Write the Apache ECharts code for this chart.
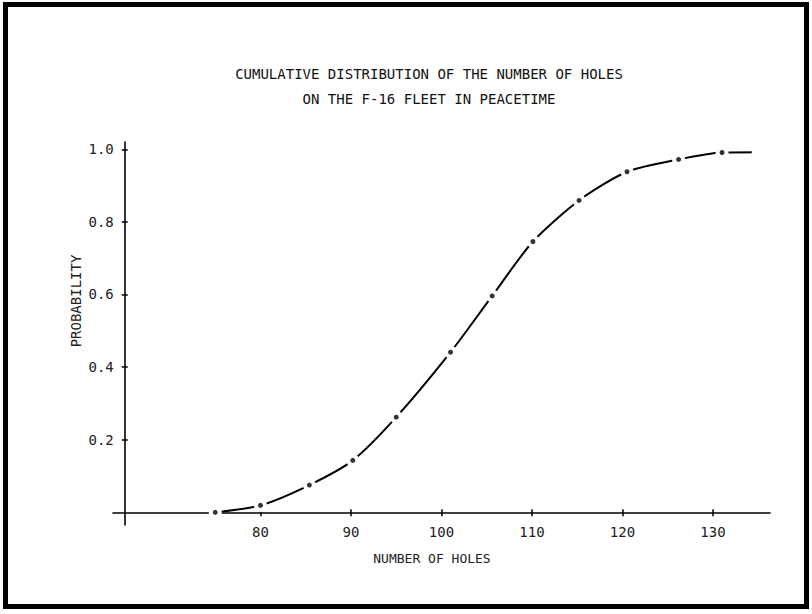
<!DOCTYPE html>
<html>
<head>
<meta charset="utf-8">
<script src="https://cdn.jsdelivr.net/npm/echarts@6/dist/echarts.min.js"></script>
<style>
html,body{margin:0;padding:0;background:#fff;}
#chart{width:812px;height:614px;}
</style>
</head>
<body>
<div id="chart"></div>
<script>
// ---- data ----
const titleLines = ['CUMULATIVE DISTRIBUTION OF THE NUMBER OF HOLES', 'ON THE F-16 FLEET IN PEACETIME'];
const xAxisTitle = 'NUMBER OF HOLES';
const yAxisTitle = 'PROBABILITY';
const holes = [75, 80, 85.4, 90.2, 95, 101, 105.6, 110.1, 115.2, 120.5, 126.2, 131, 135];
const probability = [0, 0.019, 0.075, 0.143, 0.262, 0.441, 0.596, 0.746, 0.859, 0.938, 0.972, 0.991, 0.992];
const xTicks = [80, 90, 100, 110, 120, 130];
const yTicks = [0.2, 0.4, 0.6, 0.8, 1.0];

// ---- chart ----
const FONT = 'DejaVu Sans Mono';
const X_MIN = 63.7, X_MAX = 136.3, Y_MIN = -0.035, Y_MAX = 1.02;
const GRID_L = 113, GRID_R = 42, GRID_T = 142, GRID_B = 89;
const pxPerX = (812 - GRID_L - GRID_R) / (X_MAX - X_MIN);
const yAxisAt = 65; // y axis crosses x axis here
const yOffset = -(yAxisAt - X_MIN) * pxPerX;

const points = holes.map((h, i) => [h, probability[i]]);
const dotPoints = points.slice(0, points.length - 1);

const chart = echarts.init(document.getElementById('chart'), null, {renderer: 'svg'});

const common = {
  type: 'value',
  splitLine: {show: false},
  axisLine: {show: true, lineStyle: {color: '#000', width: 1.6}}
};

chart.setOption({
  backgroundColor: '#fff',
  animation: false,
  title: {
    text: titleLines.join('\n'),
    left: 424, top: 56, textAlign: 'center',
    textStyle: {fontFamily: FONT, fontSize: 14, fontWeight: 'normal', color: '#111', lineHeight: 25}
  },
  grid: {left: GRID_L, right: GRID_R, top: GRID_T, bottom: GRID_B, containLabel: false, outerBoundsMode: 'none'},
  xAxis: [
    Object.assign({}, common, {
      min: X_MIN, max: X_MAX, position: 'bottom',
      axisLine: {show: true, onZero: true, lineStyle: {color: '#000', width: 1.6}},
      axisTick: {show: true, inside: false, length: 4, customValues: xTicks, lineStyle: {color: '#000', width: 1.5}},
      axisLabel: {show: true, customValues: xTicks, margin: 0, color: '#222', fontFamily: FONT, fontSize: 14}
    }),
    Object.assign({}, common, {
      min: X_MIN, max: X_MAX, position: 'bottom',
      axisLine: {show: false, onZero: true, onZeroAxisIndex: 0},
      axisTick: {show: true, inside: true, length: 3, customValues: xTicks, lineStyle: {color: '#000', width: 1.5}},
      axisLabel: {show: false}
    })
  ],
  yAxis: [
    Object.assign({}, common, {
      min: Y_MIN, max: Y_MAX, position: 'left', offset: yOffset,
      axisLine: {show: true, onZero: false, lineStyle: {color: '#000', width: 1.6}},
      axisTick: {show: true, inside: false, length: 3, customValues: yTicks, lineStyle: {color: '#000', width: 1.5}},
      axisLabel: {show: true, customValues: yTicks, margin: 11, color: '#222', fontFamily: FONT, fontSize: 14,
        formatter: v => v.toFixed(1)}
    }),
    Object.assign({}, common, {
      min: Y_MIN, max: Y_MAX, position: 'left', offset: yOffset,
      axisLine: {show: false, onZero: false},
      axisTick: {show: true, inside: true, length: 3, customValues: yTicks, lineStyle: {color: '#000', width: 1.5}},
      axisLabel: {show: false}
    })
  ],
  graphic: [
    {type: 'rect', shape: {x: 5.5, y: 4.5, width: 801, height: 602}, style: {fill: 'none', stroke: '#000', lineWidth: 5}, silent: true},
    {type: 'text', x: 432, y: 558, style: {text: xAxisTitle, font: '13px "' + FONT + '"', fill: '#222', textAlign: 'center', textVerticalAlign: 'middle'}},
    {type: 'text', x: 76, y: 301, rotation: Math.PI / 2, style: {text: yAxisTitle, font: '14px "' + FONT + '"', fill: '#222', textAlign: 'center', textVerticalAlign: 'middle'}}
  ],
  series: [
    {
      type: 'line', xAxisIndex: 0, yAxisIndex: 0,
      data: points, smooth: 0.25,
      showSymbol: true, symbol: 'circle', symbolSize: 13,
      itemStyle: {color: '#fff', borderWidth: 0},
      lineStyle: {color: '#000', width: 2},
      z: 3
    },
    {
      type: 'scatter', xAxisIndex: 0, yAxisIndex: 0,
      data: dotPoints, symbol: 'circle', symbolSize: 5,
      itemStyle: {color: '#000'},
      z: 4
    }
  ]
});
</script>
</body>
</html>
